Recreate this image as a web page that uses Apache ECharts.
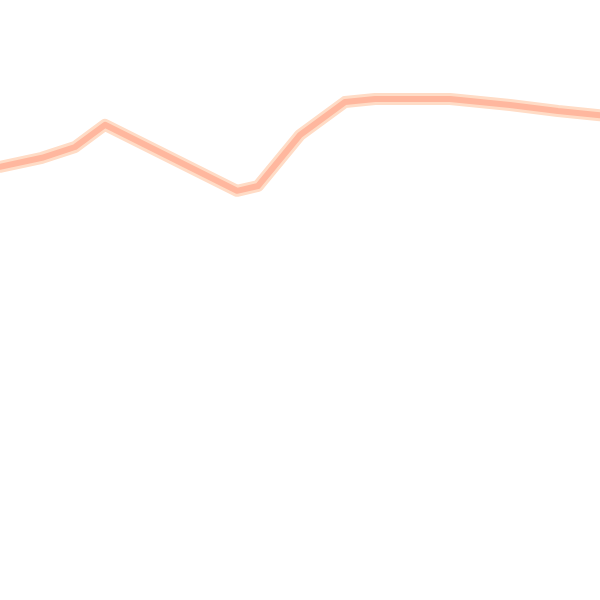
<!DOCTYPE html>
<html>
<head>
<meta charset="utf-8">
<script src="https://cdn.jsdelivr.net/npm/echarts@6/dist/echarts.min.js"></script>
<style>html,body{margin:0;padding:0;background:#fff}#c{width:600px;height:600px}</style>
</head>
<body>
<div id="c"></div>
<script>
const xValues = [0, 7, 12.5, 17.5, 39.5, 43, 50, 57.5, 62.5, 75, 85, 93, 100];
const yValues = [72.2, 73.7, 75.5, 79.2, 68.2, 69, 77.5, 83, 83.5, 83.5, 82.5, 81.5, 80.8];

const chart = echarts.init(document.getElementById('c'));
chart.setOption({
  animation: false,
  grid: {left: 0, right: 0, top: 0, bottom: 0},
  xAxis: {type: 'value', min: 0, max: 100, show: false},
  yAxis: {type: 'value', min: 0, max: 100, show: false},
  series: [
    {
      type: 'line',
      data: xValues.map((x, i) => [x, yValues[i]]),
      showSymbol: false,
      silent: true,
      lineStyle: {color: '#ffdcc6', width: 12, join: 'round', cap: 'round'}
    },
    {
      type: 'line',
      data: xValues.map((x, i) => [x, yValues[i]]),
      showSymbol: false,
      lineStyle: {color: '#ffb79e', width: 6, join: 'round', cap: 'round'}
    }
  ]
});
</script>
</body>
</html>
